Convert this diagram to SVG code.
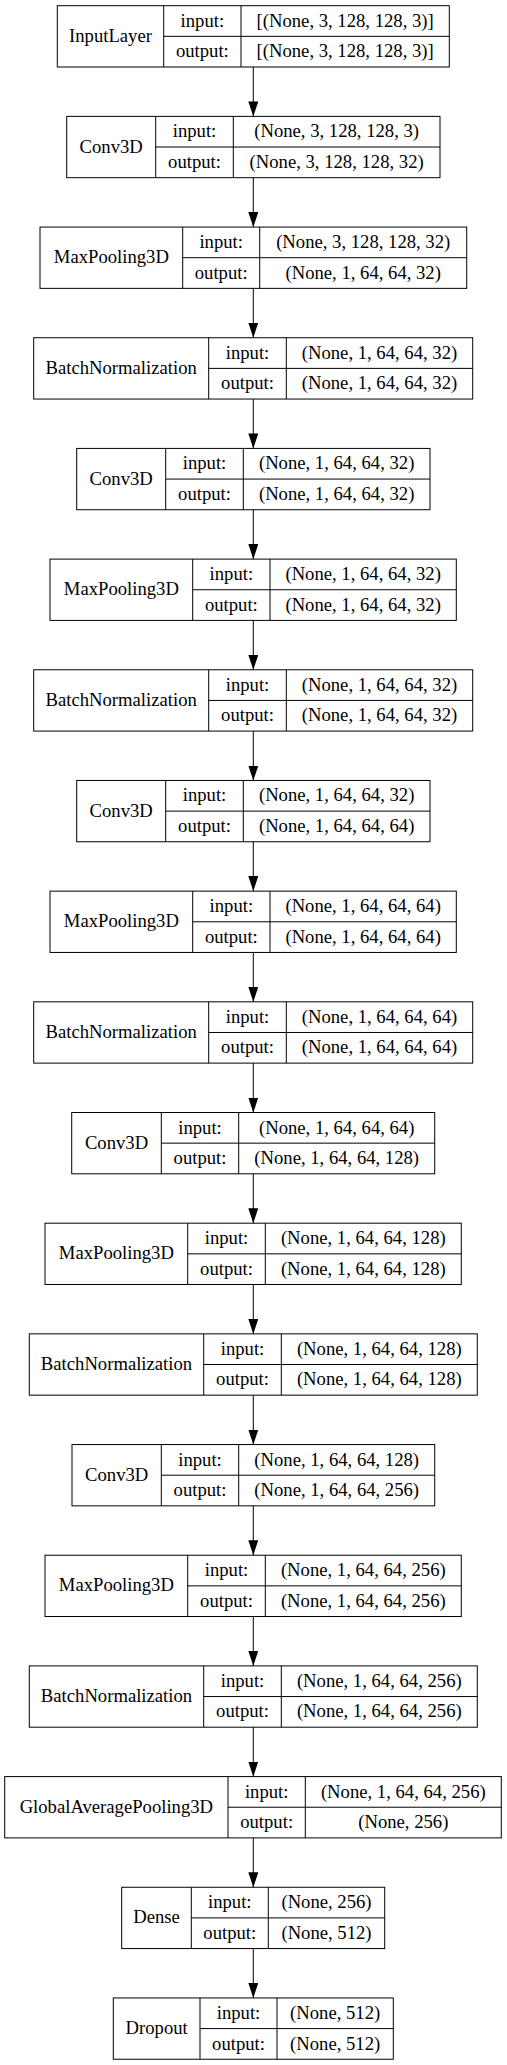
<svg xmlns="http://www.w3.org/2000/svg" width="507" height="2065" viewBox="0 0 507 2065">
<style>
.box{fill:none;stroke:#000;stroke-width:1}
.t{font-family:"Liberation Serif","Times New Roman",serif;font-size:18.67px;fill:#000;text-anchor:middle}
.e{stroke:#000;stroke-width:1;fill:none}
</style>
<defs>
<marker id="ah" markerUnits="userSpaceOnUse" markerWidth="15" markerHeight="10" refX="15" refY="5" orient="auto">
<path d="M0,0 L15,5 L0,10 Z" fill="#000"/>
</marker>
</defs>
<rect width="507" height="2065" fill="#fff"/>
<g id="connectors">
<line class="e" x1="253.3" y1="67" x2="253.3" y2="116.4" marker-end="url(#ah)"/>
<line class="e" x1="253.3" y1="177.7" x2="253.3" y2="227.1" marker-end="url(#ah)"/>
<line class="e" x1="253.3" y1="288.4" x2="253.3" y2="337.7" marker-end="url(#ah)"/>
<line class="e" x1="253.3" y1="399" x2="253.3" y2="448.4" marker-end="url(#ah)"/>
<line class="e" x1="253.3" y1="509.7" x2="253.3" y2="559.1" marker-end="url(#ah)"/>
<line class="e" x1="253.3" y1="620.4" x2="253.3" y2="669.8" marker-end="url(#ah)"/>
<line class="e" x1="253.3" y1="731.1" x2="253.3" y2="780.5" marker-end="url(#ah)"/>
<line class="e" x1="253.3" y1="841.8" x2="253.3" y2="891.1" marker-end="url(#ah)"/>
<line class="e" x1="253.3" y1="952.4" x2="253.3" y2="1001.8" marker-end="url(#ah)"/>
<line class="e" x1="253.3" y1="1063.1" x2="253.3" y2="1112.5" marker-end="url(#ah)"/>
<line class="e" x1="253.3" y1="1173.8" x2="253.3" y2="1223.2" marker-end="url(#ah)"/>
<line class="e" x1="253.3" y1="1284.5" x2="253.3" y2="1333.9" marker-end="url(#ah)"/>
<line class="e" x1="253.3" y1="1395.2" x2="253.3" y2="1444.5" marker-end="url(#ah)"/>
<line class="e" x1="253.3" y1="1505.8" x2="253.3" y2="1555.2" marker-end="url(#ah)"/>
<line class="e" x1="253.3" y1="1616.5" x2="253.3" y2="1665.9" marker-end="url(#ah)"/>
<line class="e" x1="253.3" y1="1727.2" x2="253.3" y2="1776.6" marker-end="url(#ah)"/>
<line class="e" x1="253.3" y1="1837.9" x2="253.3" y2="1887.3" marker-end="url(#ah)"/>
<line class="e" x1="253.3" y1="1948.6" x2="253.3" y2="1997.9" marker-end="url(#ah)"/>
</g>

<g id="n0" transform="translate(0,5.7)">
<rect class="box" x="57.3" y="0" width="392" height="61.3"/>
<path class="box" d="M163.7,0V61.3M241,0V61.3M163.7,30.65H449.3"/>
<text class="t" x="110.5" y="36.2">InputLayer</text>
<text class="t" x="202.35" y="21">input:</text>
<text class="t" x="202.35" y="51.6">output:</text>
<text class="t" x="345.15" y="21">[(None, 3, 128, 128, 3)]</text>
<text class="t" x="345.15" y="51.6">[(None, 3, 128, 128, 3)]</text>
</g>

<g id="n1" transform="translate(0,116.38)">
<rect class="box" x="66.7" y="0" width="373.3" height="61.3"/>
<path class="box" d="M155.7,0V61.3M233.3,0V61.3M155.7,30.65H440"/>
<text class="t" x="111.2" y="36.2">Conv3D</text>
<text class="t" x="194.5" y="21">input:</text>
<text class="t" x="194.5" y="51.6">output:</text>
<text class="t" x="336.65" y="21">(None, 3, 128, 128, 3)</text>
<text class="t" x="336.65" y="51.6">(None, 3, 128, 128, 32)</text>
</g>

<g id="n2" transform="translate(0,227.06)">
<rect class="box" x="40" y="0" width="426.7" height="61.3"/>
<path class="box" d="M182.7,0V61.3M259.7,0V61.3M182.7,30.65H466.7"/>
<text class="t" x="111.35" y="36.2">MaxPooling3D</text>
<text class="t" x="221.2" y="21">input:</text>
<text class="t" x="221.2" y="51.6">output:</text>
<text class="t" x="363.2" y="21">(None, 3, 128, 128, 32)</text>
<text class="t" x="363.2" y="51.6">(None, 1, 64, 64, 32)</text>
</g>

<g id="n3" transform="translate(0,337.74)">
<rect class="box" x="33.7" y="0" width="439" height="61.3"/>
<path class="box" d="M208.7,0V61.3M286.3,0V61.3M208.7,30.65H472.7"/>
<text class="t" x="121.2" y="36.2">BatchNormalization</text>
<text class="t" x="247.5" y="21">input:</text>
<text class="t" x="247.5" y="51.6">output:</text>
<text class="t" x="379.5" y="21">(None, 1, 64, 64, 32)</text>
<text class="t" x="379.5" y="51.6">(None, 1, 64, 64, 32)</text>
</g>

<g id="n4" transform="translate(0,448.42)">
<rect class="box" x="76.7" y="0" width="353.3" height="61.3"/>
<path class="box" d="M165.7,0V61.3M243.3,0V61.3M165.7,30.65H430"/>
<text class="t" x="121.2" y="36.2">Conv3D</text>
<text class="t" x="204.5" y="21">input:</text>
<text class="t" x="204.5" y="51.6">output:</text>
<text class="t" x="336.65" y="21">(None, 1, 64, 64, 32)</text>
<text class="t" x="336.65" y="51.6">(None, 1, 64, 64, 32)</text>
</g>

<g id="n5" transform="translate(0,559.1)">
<rect class="box" x="50" y="0" width="406.3" height="61.3"/>
<path class="box" d="M192.7,0V61.3M270,0V61.3M192.7,30.65H456.3"/>
<text class="t" x="121.35" y="36.2">MaxPooling3D</text>
<text class="t" x="231.35" y="21">input:</text>
<text class="t" x="231.35" y="51.6">output:</text>
<text class="t" x="363.15" y="21">(None, 1, 64, 64, 32)</text>
<text class="t" x="363.15" y="51.6">(None, 1, 64, 64, 32)</text>
</g>

<g id="n6" transform="translate(0,669.78)">
<rect class="box" x="33.7" y="0" width="439" height="61.3"/>
<path class="box" d="M208.7,0V61.3M286.3,0V61.3M208.7,30.65H472.7"/>
<text class="t" x="121.2" y="36.2">BatchNormalization</text>
<text class="t" x="247.5" y="21">input:</text>
<text class="t" x="247.5" y="51.6">output:</text>
<text class="t" x="379.5" y="21">(None, 1, 64, 64, 32)</text>
<text class="t" x="379.5" y="51.6">(None, 1, 64, 64, 32)</text>
</g>

<g id="n7" transform="translate(0,780.46)">
<rect class="box" x="76.7" y="0" width="353.3" height="61.3"/>
<path class="box" d="M165.7,0V61.3M243.3,0V61.3M165.7,30.65H430"/>
<text class="t" x="121.2" y="36.2">Conv3D</text>
<text class="t" x="204.5" y="21">input:</text>
<text class="t" x="204.5" y="51.6">output:</text>
<text class="t" x="336.65" y="21">(None, 1, 64, 64, 32)</text>
<text class="t" x="336.65" y="51.6">(None, 1, 64, 64, 64)</text>
</g>

<g id="n8" transform="translate(0,891.14)">
<rect class="box" x="50" y="0" width="406.3" height="61.3"/>
<path class="box" d="M192.7,0V61.3M270,0V61.3M192.7,30.65H456.3"/>
<text class="t" x="121.35" y="36.2">MaxPooling3D</text>
<text class="t" x="231.35" y="21">input:</text>
<text class="t" x="231.35" y="51.6">output:</text>
<text class="t" x="363.15" y="21">(None, 1, 64, 64, 64)</text>
<text class="t" x="363.15" y="51.6">(None, 1, 64, 64, 64)</text>
</g>

<g id="n9" transform="translate(0,1001.82)">
<rect class="box" x="33.7" y="0" width="439" height="61.3"/>
<path class="box" d="M208.7,0V61.3M286.3,0V61.3M208.7,30.65H472.7"/>
<text class="t" x="121.2" y="36.2">BatchNormalization</text>
<text class="t" x="247.5" y="21">input:</text>
<text class="t" x="247.5" y="51.6">output:</text>
<text class="t" x="379.5" y="21">(None, 1, 64, 64, 64)</text>
<text class="t" x="379.5" y="51.6">(None, 1, 64, 64, 64)</text>
</g>

<g id="n10" transform="translate(0,1112.5)">
<rect class="box" x="71.7" y="0" width="363" height="61.3"/>
<path class="box" d="M161.3,0V61.3M238.7,0V61.3M161.3,30.65H434.7"/>
<text class="t" x="116.5" y="36.2">Conv3D</text>
<text class="t" x="200" y="21">input:</text>
<text class="t" x="200" y="51.6">output:</text>
<text class="t" x="336.7" y="21">(None, 1, 64, 64, 64)</text>
<text class="t" x="336.7" y="51.6">(None, 1, 64, 64, 128)</text>
</g>

<g id="n11" transform="translate(0,1223.18)">
<rect class="box" x="45" y="0" width="416.3" height="61.3"/>
<path class="box" d="M187.7,0V61.3M265.3,0V61.3M187.7,30.65H461.3"/>
<text class="t" x="116.35" y="36.2">MaxPooling3D</text>
<text class="t" x="226.5" y="21">input:</text>
<text class="t" x="226.5" y="51.6">output:</text>
<text class="t" x="363.3" y="21">(None, 1, 64, 64, 128)</text>
<text class="t" x="363.3" y="51.6">(None, 1, 64, 64, 128)</text>
</g>

<g id="n12" transform="translate(0,1333.86)">
<rect class="box" x="29.3" y="0" width="448" height="61.3"/>
<path class="box" d="M203.7,0V61.3M281.3,0V61.3M203.7,30.65H477.3"/>
<text class="t" x="116.5" y="36.2">BatchNormalization</text>
<text class="t" x="242.5" y="21">input:</text>
<text class="t" x="242.5" y="51.6">output:</text>
<text class="t" x="379.3" y="21">(None, 1, 64, 64, 128)</text>
<text class="t" x="379.3" y="51.6">(None, 1, 64, 64, 128)</text>
</g>

<g id="n13" transform="translate(0,1444.54)">
<rect class="box" x="72" y="0" width="362.7" height="61.3"/>
<path class="box" d="M161.3,0V61.3M238.7,0V61.3M161.3,30.65H434.7"/>
<text class="t" x="116.65" y="36.2">Conv3D</text>
<text class="t" x="200" y="21">input:</text>
<text class="t" x="200" y="51.6">output:</text>
<text class="t" x="336.7" y="21">(None, 1, 64, 64, 128)</text>
<text class="t" x="336.7" y="51.6">(None, 1, 64, 64, 256)</text>
</g>

<g id="n14" transform="translate(0,1555.22)">
<rect class="box" x="45" y="0" width="416.3" height="61.3"/>
<path class="box" d="M187.7,0V61.3M265.3,0V61.3M187.7,30.65H461.3"/>
<text class="t" x="116.35" y="36.2">MaxPooling3D</text>
<text class="t" x="226.5" y="21">input:</text>
<text class="t" x="226.5" y="51.6">output:</text>
<text class="t" x="363.3" y="21">(None, 1, 64, 64, 256)</text>
<text class="t" x="363.3" y="51.6">(None, 1, 64, 64, 256)</text>
</g>

<g id="n15" transform="translate(0,1665.9)">
<rect class="box" x="29.3" y="0" width="448" height="61.3"/>
<path class="box" d="M203.7,0V61.3M281.3,0V61.3M203.7,30.65H477.3"/>
<text class="t" x="116.5" y="36.2">BatchNormalization</text>
<text class="t" x="242.5" y="21">input:</text>
<text class="t" x="242.5" y="51.6">output:</text>
<text class="t" x="379.3" y="21">(None, 1, 64, 64, 256)</text>
<text class="t" x="379.3" y="51.6">(None, 1, 64, 64, 256)</text>
</g>

<g id="n16" transform="translate(0,1776.58)">
<rect class="box" x="4.7" y="0" width="496.6" height="61.3"/>
<path class="box" d="M228,0V61.3M305.3,0V61.3M228,30.65H501.3"/>
<text class="t" x="116.35" y="36.2">GlobalAveragePooling3D</text>
<text class="t" x="266.65" y="21">input:</text>
<text class="t" x="266.65" y="51.6">output:</text>
<text class="t" x="403.3" y="21">(None, 1, 64, 64, 256)</text>
<text class="t" x="403.3" y="51.6">(None, 256)</text>
</g>

<g id="n17" transform="translate(0,1887.26)">
<rect class="box" x="121.7" y="0" width="263" height="61.3"/>
<path class="box" d="M191.3,0V61.3M268.3,0V61.3M191.3,30.65H384.7"/>
<text class="t" x="156.5" y="36.2">Dense</text>
<text class="t" x="229.8" y="21">input:</text>
<text class="t" x="229.8" y="51.6">output:</text>
<text class="t" x="326.5" y="21">(None, 256)</text>
<text class="t" x="326.5" y="51.6">(None, 512)</text>
</g>

<g id="n18" transform="translate(0,1997.94)">
<rect class="box" x="113.3" y="0" width="280" height="61.3"/>
<path class="box" d="M200,0V61.3M277,0V61.3M200,30.65H393.3"/>
<text class="t" x="156.65" y="36.2">Dropout</text>
<text class="t" x="238.5" y="21">input:</text>
<text class="t" x="238.5" y="51.6">output:</text>
<text class="t" x="335.15" y="21">(None, 512)</text>
<text class="t" x="335.15" y="51.6">(None, 512)</text>
</g>
</svg>
